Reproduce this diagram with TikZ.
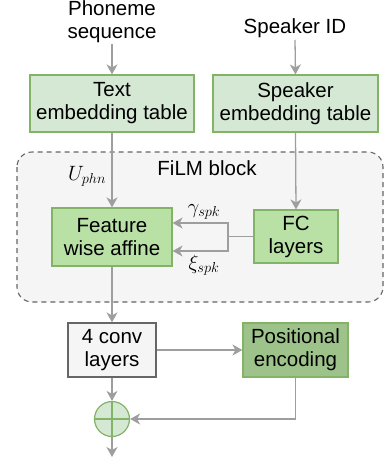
\documentclass[tikz,border=0pt]{standalone}
\usepackage{fontspec}
\setmainfont{Liberation Sans}
\usetikzlibrary{arrows.meta}

\definecolor{greenline}{HTML}{82B366}
\definecolor{greenlight}{HTML}{D5E8D4}
\definecolor{greenmid}{HTML}{B9E0A5}
\definecolor{greendark}{HTML}{9DC38B}
\definecolor{grayfill}{HTML}{F5F5F5}
\definecolor{grayline}{HTML}{666666}
\definecolor{arrowgray}{HTML}{9E9E9E}

\tikzset{
  every node/.style={font=\fontsize{20.5}{23}\selectfont, align=center, text=black},
  boxbase/.style={draw, line width=1.2pt, inner sep=0pt},
  lightbox/.style={boxbase, draw=greenline, fill=greenlight},
  midbox/.style={boxbase, draw=greenline, fill=greenmid},
  darkbox/.style={boxbase, draw=greenline, fill=greendark},
  graybox/.style={boxbase, draw=grayline, fill=grayfill},
  conn/.style={draw=arrowgray, line width=1.3pt},
  arr/.style={conn, -{Stealth[length=10pt, width=11pt, inset=3pt]}},
  filmframe/.style={draw=grayline, fill=grayfill, line width=1.1pt,
    dash pattern=on 5pt off 4pt, rounded corners=15pt},
}

\begin{document}
\begin{tikzpicture}[x=1pt, y=-1pt]
\useasboundingbox (0,0) rectangle (385,461);

% FiLM block frame
\draw[filmframe] (17,152) rectangle (383,302);
\node[inner sep=0pt] (filmlabel) at (207,168) {FiLM block};

% inputs
\node[inner sep=1pt] (phon) at (112,22) {Phoneme\\sequence};
\node[inner sep=2pt] (sid) at (295,28) {Speaker ID};

% blocks
\node[lightbox, minimum width=164pt, minimum height=57pt] (text) at (112,103.5) {Text\\embedding table};
\node[lightbox, minimum width=165pt, minimum height=57pt] (spk) at (295.5,103.5) {Speaker\\embedding table};
\node[midbox, minimum width=120pt, minimum height=58pt] (fwa) at (112,237) {Feature\\wise affine};
\node[midbox, minimum width=84pt, minimum height=53pt] (fc) at (296,236.5) {FC\\layers};
\node[graybox, minimum width=88pt, minimum height=54pt] (conv) at (112,350) {4 conv\\layers};
\node[darkbox, minimum width=105pt, minimum height=54pt] (pos) at (295.5,350) {Positional\\encoding};

% summation
\node[circle, draw=greenline, fill=greenlight, line width=1.2pt, minimum size=35pt, inner sep=0pt] (sum) at (112,419) {};
\draw[greenline, line width=1.2pt] (sum.north) -- (sum.south) (sum.west) -- (sum.east);

% labels
\node (uphn) at (87,176) {$U_{phn}$};
\node (gamma) at (204,212) {$\gamma_{spk}$};
\node (xi) at (204,265) {$\xi_{spk}$};

% connectors
\draw[arr] (phon.south) -- (text.north);
\draw[arr] (sid.south) -- (spk.north);
\draw[arr] (text.south) -- (fwa.north);
\draw[arr] (spk.south) -- (fc.north);

\coordinate (gtop) at (228,223);
\coordinate (gbot) at (228,251);
\draw[arr] (fc.west) -| (gtop) -- (gtop -| fwa.east);
\draw[arr] (fc.west) -| (gbot) -- (gbot -| fwa.east);

\draw[arr] (fwa.south) -- (conv.north);
\draw[arr] (conv.east) -- (pos.west);
\draw[arr] (conv.south) -- (sum.north);
\draw[arr] (pos.south) |- (sum.east);

\coordinate (out) at (112,457);
\draw[arr] (sum.south) -- (out);
\end{tikzpicture}
\end{document}
